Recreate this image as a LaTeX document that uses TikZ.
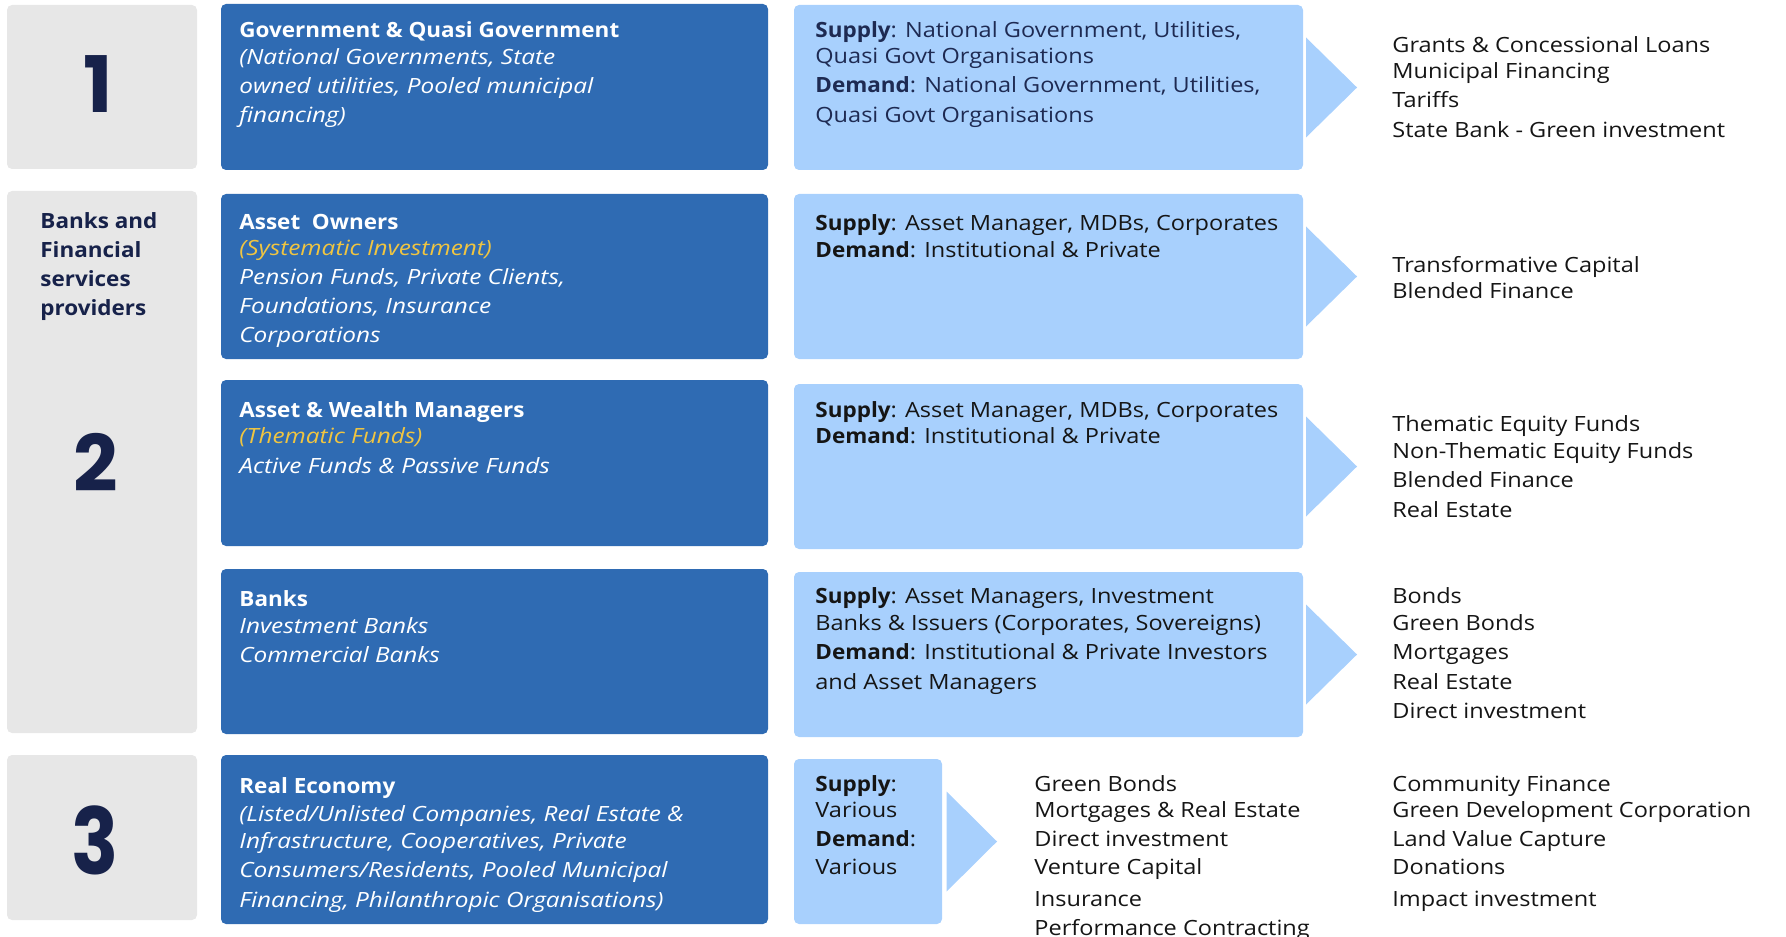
\documentclass[tikz,border=0pt]{standalone}
\usepackage{fontspec}
\setmainfont{Open Sans}[UprightFeatures={FakeStretch=1.12}, BoldFeatures={FakeStretch=1.07}, ItalicFeatures={FakeStretch=1.16}]
\newfontfamily\numfont{Poppins}
\usetikzlibrary{calc}
\definecolor{grayb}{HTML}{E7E7E7}
\definecolor{darkb}{HTML}{2F6BB3}
\definecolor{lightb}{HTML}{A8D0FD}
\definecolor{navy}{HTML}{17224A}
\definecolor{navyt}{HTML}{1E2A52}
\definecolor{ink}{HTML}{151515}
\definecolor{gold}{HTML}{F0C541}
\begin{document}
\begin{tikzpicture}[x=0.5pt,y=-0.5pt,
  box/.style={anchor=north west, inner sep=0, outer sep=0, rounded corners=2.5pt},
  gbox/.style={box, fill=grayb},
  dbox/.style={box, fill=darkb, minimum width=273.5pt},
  lbox/.style={box, fill=lightb},
  body/.style={anchor=base west, inner sep=0, font=\fontsize{10.5}{12}\selectfont, text=ink},
  navybody/.style={body, text=navyt},
  wtitle/.style={anchor=base west, inner sep=0, font=\fontsize{10.5}{12}\selectfont\bfseries, text=white},
  wital/.style={anchor=base west, inner sep=0, font=\fontsize{10.5}{12}\selectfont\itshape, text=white},
  gital/.style={anchor=base west, inner sep=0, font=\fontsize{10.5}{12}\selectfont\itshape, text=gold},
  gtext/.style={anchor=base west, inner sep=0, font=\fontsize{10.5}{12}\selectfont\bfseries, text=navy},
  numst/.style={anchor=base, inner sep=0, font=\numfont\bfseries\fontsize{39}{39}\selectfont, text=navy},
  chevron/.style={fill=lightb}
]
\useasboundingbox (0,0) rectangle (1786,936);

% ---- column 1 (gray)
\node[gbox, minimum width=95pt, minimum height=82pt] (g1) at (7,5) {};
\node[gbox, minimum width=95pt, minimum height=271pt] (g2) at (7,191) {};
\node[gbox, minimum width=95pt, minimum height=82.5pt] (g3) at (7,755) {};

% ---- column 2 (dark blue)
\node[dbox, minimum height=83pt] (d1) at (221,4) {};
\node[dbox, minimum height=82.5pt] (d2) at (221,194) {};
\node[dbox, minimum height=83pt] (d3) at (221,380) {};
\node[dbox, minimum height=82.5pt] (d4) at (221,569) {};
\node[dbox, minimum height=84.5pt] (d5) at (221,755) {};

% ---- column 3 (light blue)
\node[lbox, minimum width=254.5pt, minimum height=82.5pt] (l1) at (794,5) {};
\node[lbox, minimum width=254.5pt, minimum height=82.5pt] (l2) at (794,194) {};
\node[lbox, minimum width=254.5pt, minimum height=82.5pt] (l3) at (794,384) {};
\node[lbox, minimum width=254.5pt, minimum height=82.5pt] (l4) at (794,572) {};
\node[lbox, minimum width=74pt, minimum height=82.5pt] (l5) at (794,759) {};

% ---- chevrons
\foreach \b in {l1,l2,l3,l4}{
  \path[chevron] ([shift={(1.5pt,25pt)}]\b.east) -- ([shift={(27pt,0pt)}]\b.east) -- ([shift={(1.5pt,-25pt)}]\b.east) -- cycle;
}
\path[chevron] ([shift={(2.3pt,25pt)}]l5.east) -- ([shift={(27.5pt,0pt)}]l5.east) -- ([shift={(2.3pt,-25pt)}]l5.east) -- cycle;

% ---- numbers and side label
\node[numst] (n1) at (98.5,113) {1};
\node[numst] (n2) at (95.5,491) {2};
\node[numst] (n3) at (95.5,874) {\scalebox{1}[1.18]{3}};
\foreach \yy/\mytext [count=\i] in {228/{Banks and},257/{Financial},286/{services},315/{providers}}
  \node[gtext] (gt\i) at (40,\yy) {\mytext};

% ---- dark box texts
\node[wtitle] (d1t) at (239,38) {Government \& Quasi Government};
\foreach \yy/\mytext [count=\i] in {65/{(National Governments, State},94/{owned utilities, Pooled municipal},123/{financing)}}
  \node[wital] (d1l\i) at (239,\yy) {\mytext};

\node[wtitle] (d2t) at (239,229) {Asset\ \ Owners};
\node[gital] (d2g) at (239,256) {(Systematic Investment)};
\foreach \yy/\mytext [count=\i] in {284/{Pension Funds, Private Clients,},313/{Foundations, Insurance},342/{Corporations}}
  \node[wital] (d2l\i) at (239,\yy) {\mytext};

\node[wtitle] (d3t) at (239,417) {Asset \& Wealth Managers};
\node[gital] (d3g) at (239,443) {(Thematic Funds)};
\node[wital] (d3l1) at (239,473) {Active Funds \& Passive Funds};

\node[wtitle] (d4t) at (239,606) {Banks};
\node[wital] (d4l1) at (239,633) {Investment Banks};
\node[wital] (d4l2) at (239,662) {Commercial Banks};

\node[wtitle] (d5t) at (239,793) {Real Economy};
\foreach \yy/\mytext [count=\i] in {821/{(Listed/Unlisted Companies, Real Estate \&},848/{Infrastructure, Cooperatives, Private},877/{Consumers/Residents, Pooled Municipal},907/{Financing, Philanthropic Organisations)}}
  \node[wital] (d5l\i) at (239,\yy) {\mytext};

% ---- light box texts
\node[navybody] (s1a) at (815,38) {\textbf{Supply}: National Government, Utilities,};
\node[navybody] (s1b) at (815,64) {Quasi Govt Organisations};
\node[navybody] (s1c) at (815,93) {\textbf{Demand}: National Government, Utilities,};
\node[navybody] (s1d) at (815,123) {Quasi Govt Organisations};

\node[body] (s2a) at (815,231) {\textbf{Supply}: Asset Manager, MDBs, Corporates};
\node[body] (s2b) at (815,257) {\textbf{Demand}: Institutional \& Private};

\node[body] (s3a) at (815,417) {\textbf{Supply}: Asset Manager, MDBs, Corporates};
\node[body] (s3b) at (815,443) {\textbf{Demand}: Institutional \& Private};

\node[body] (s4a) at (815,603) {\textbf{Supply}: Asset Managers, Investment};
\node[body] (s4b) at (815,630) {Banks \& Issuers (Corporates, Sovereigns)};
\node[body] (s4c) at (815,659) {\textbf{Demand}: Institutional \& Private Investors};
\node[body] (s4d) at (815,689) {and Asset Managers};

\node[body] (s5a) at (815,791) {\textbf{Supply}:};
\node[body] (s5b) at (815,817) {Various};
\node[body] (s5c) at (815,846) {\textbf{Demand}:};
\node[body] (s5d) at (815,874) {Various};

% ---- right lists
\foreach \yy/\mytext [count=\i] in {53/{Grants \& Concessional Loans},79/{Municipal Financing},108/{Tariffs},138/{State Bank - Green investment}}
  \node[body] (r1-\i) at (1392,\yy) {\mytext};
\foreach \yy/\mytext [count=\i] in {272/{Transformative Capital},298/{Blended Finance}}
  \node[body] (r2-\i) at (1392,\yy) {\mytext};
\foreach \yy/\mytext [count=\i] in {431/{Thematic Equity Funds},458/{Non-Thematic Equity Funds},487/{Blended Finance},517/{Real Estate}}
  \node[body] (r3-\i) at (1392,\yy) {\mytext};
\foreach \yy/\mytext [count=\i] in {603/{Bonds},630/{Green Bonds},659/{Mortgages},689/{Real Estate},718/{Direct investment}}
  \node[body] (r4-\i) at (1392,\yy) {\mytext};
\foreach \yy/\mytext [count=\i] in {791/{Green Bonds},817/{Mortgages \& Real Estate},846/{Direct investment},874/{Venture Capital},906/{Insurance},935/{Performance Contracting}}
  \node[body] (m5-\i) at (1034,\yy) {\mytext};
\foreach \yy/\mytext [count=\i] in {791/{Community Finance},817/{Green Development Corporation},846/{Land Value Capture},874/{Donations},906/{Impact investment}}
  \node[body] (r5-\i) at (1392,\yy) {\mytext};
\end{tikzpicture}
\end{document}
